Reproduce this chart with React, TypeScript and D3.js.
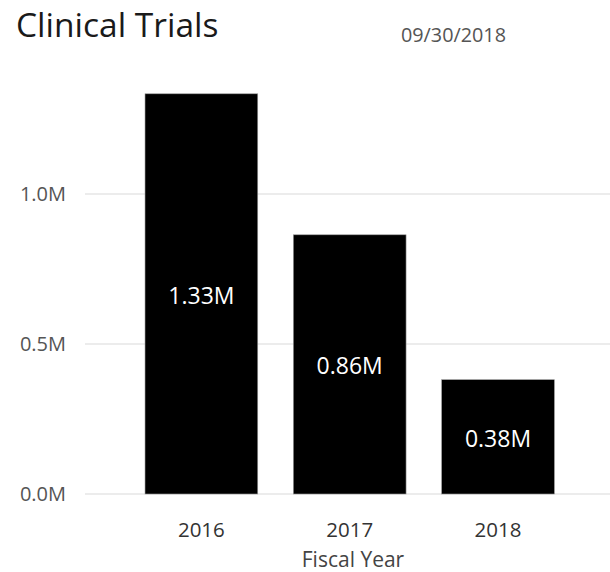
import React from "react";
import * as d3 from "d3";

const years = ["2016", "2017", "2018"];
const values = [1.334, 0.864, 0.381];
const yTicks = [0, 0.5, 1.0];
const title = "Clinical Trials";
const dateLabel = "09/30/2018";
const xTitle = "Fiscal Year";

const W = 610;
const H = 572;
const FONT = "'Segoe UI', 'Open Sans', 'Noto Sans', sans-serif";

export default function App() {
  const x = d3.scaleBand<string>().domain(years).range([89.4, 610]).paddingInner(0.24).paddingOuter(0.375);
  const y = d3.scaleLinear().domain([0, 1]).range([494, 194]);
  const fmt = (v: number) => v.toFixed(1) + "M";
  const fmt2 = (v: number) => v.toFixed(2) + "M";
  return (
    <svg width={W} height={H} style={{ position: "absolute", left: 0, top: 0, background: "#fff" }} fontFamily={FONT}>
      <text x={16} y={37} fontSize={33.5} fill="#1a1a1a">{title}</text>
      <text x={401} y={42} fontSize={19.8} fill="#555">{dateLabel}</text>
      {yTicks.map((t) => (
        <g key={t}>
          <line x1={85} x2={610} y1={y(t)} y2={y(t)} stroke="#e6e6e6" strokeWidth={1.5} />
          <text x={66} y={y(t)} dy="0.35em" textAnchor="end" fontSize={20} fill="#555">{fmt(t)}</text>
        </g>
      ))}
      {years.map((yr, i) => (
        <g key={yr}>
          <rect x={x(yr)} y={y(values[i])} width={x.bandwidth()} height={y(0) - y(values[i])} fill="#000" stroke="#999" strokeWidth={0.6} />
          <text x={(x(yr) as number) + x.bandwidth() / 2} y={(y(values[i]) + y(0)) / 2 + 10} textAnchor="middle" fontSize={23} fill="#fff">{fmt2(values[i])}</text>
          <text x={(x(yr) as number) + x.bandwidth() / 2} y={536.5} textAnchor="middle" fontSize={20.5} fill="#333">{yr}</text>
        </g>
      ))}
      <text x={353} y={566.5} textAnchor="middle" fontSize={21} fill="#444">{xTitle}</text>
    </svg>
  );
}
